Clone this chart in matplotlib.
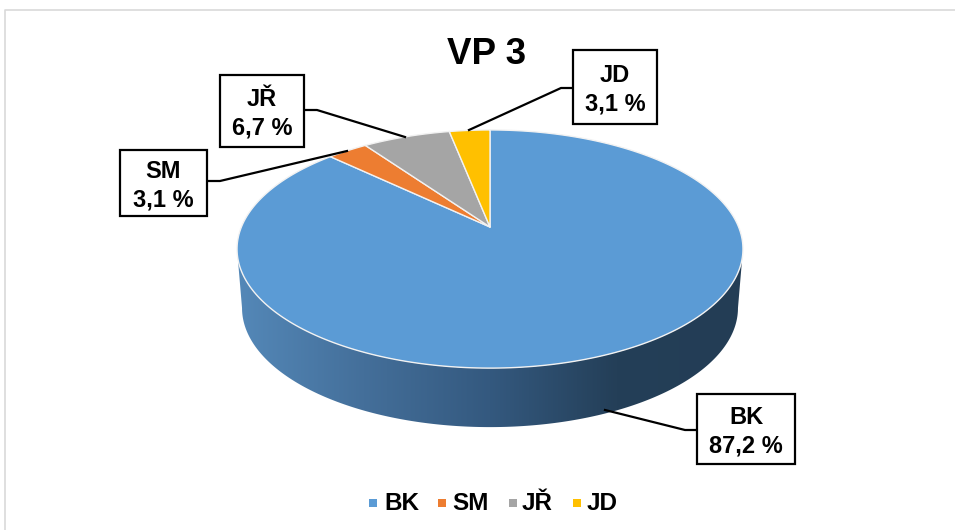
import numpy as np
import matplotlib.pyplot as plt
from matplotlib.patches import Polygon, Rectangle
from matplotlib.colors import LinearSegmentedColormap

plt.rcParams['font.family'] = ['Liberation Sans', 'DejaVu Sans']

# data
TITLE = "VP 3"
categories = ["BK", "SM", "JŘ", "JD"]
values = [87.2, 3.1, 6.7, 3.1]
colors = ["#5b9bd5", "#ed7d31", "#a5a5a5", "#ffc000"]

# pie geometry in pixels, the tilted disc is a circle seen in perspective
CX, APEX_Y = 490, 227
A, B, K = 248.6, 115, 0.185
WALL_DROP = 59
WALL_SHRINK = 5

# label boxes: x0, y0, x1, y1 and the leader line points
boxes = [(697, 394, 795, 464), (120, 150, 207, 216), (220, 75, 304, 147), (573, 50, 657, 124)]
leaders = [
    [(697, 430), (685, 430), (605, 410)],
    [(207, 181), (220, 181), (347, 151)],
    [(304, 110), (317, 110), (405, 137)],
    [(573, 88), (561, 88), (469, 130)],
]
legend_x = [(373, 384), (442, 452), (513, 522), (577, 587)]


def project(theta):
    # theta in radians, clockwise from the back of the disc
    u, v = np.sin(theta), np.cos(theta)
    w = 1 + K * v
    return CX + A * u / w, APEX_Y - B * v / w


fig = plt.figure(figsize=(9.55, 5.30), dpi=100)
ax = fig.add_axes([0, 0, 1, 1])
ax.set_xlim(0, 955)
ax.set_ylim(530, 0)
ax.axis('off')

# frame of the slide
ax.plot([5, 5, 955], [530, 10, 10], color='#d9d9d9', linewidth=1.2)

# side wall with a gradient
t = np.linspace(0, 2 * np.pi, 721)
xt, yt = project(t)
cy = (yt.max() + yt.min()) / 2
rx = (xt.max() - xt.min()) / 2
ry = (yt.max() - yt.min()) / 2
s = np.linspace(np.pi, 2 * np.pi, 300)
top_x, top_y = CX + rx * np.cos(s), cy - ry * np.sin(s)
bot_x, bot_y = CX + (rx - WALL_SHRINK) * np.cos(s), cy + WALL_DROP - ry * np.sin(s)
wall_pts = np.column_stack([np.r_[top_x, bot_x[::-1]], np.r_[top_y, bot_y[::-1]]])
wall = Polygon(wall_pts, closed=True, facecolor='none', edgecolor='none')
ax.add_patch(wall)
cmap = LinearSegmentedColormap.from_list('wall', [
    (0.0, '#5488b8'), (0.25, '#446f9a'), (0.5, '#34597f'),
    (0.75, '#243f58'), (1.0, '#233d55')])
im = ax.imshow(np.linspace(0, 1, 256)[None, :], extent=(CX - rx, CX + rx, 440, 240),
               cmap=cmap, aspect='auto', zorder=2)
im.set_clip_path(wall)
ax.set_xlim(0, 955)
ax.set_ylim(530, 0)

# slices, clockwise from the top
fractions = np.array(values) / sum(values)
edges = np.r_[0, np.cumsum(fractions)] * 2 * np.pi
for i, name in enumerate(categories):
    th = np.linspace(edges[i], edges[i + 1], 300)
    x, y = project(th)
    pts = np.column_stack([np.r_[CX, x], np.r_[APEX_Y, y]])
    ax.add_patch(Polygon(pts, closed=True, facecolor=colors[i], edgecolor='#f2f2f2',
                         linewidth=1.0, joinstyle='round', zorder=3))

# title
ax.text(487, 55, TITLE, ha='center', va='center', fontsize=26.5, fontweight='bold', color='black', zorder=6)

# data labels
for i, name in enumerate(categories):
    x0, y0, x1, y1 = boxes[i]
    ax.add_patch(Rectangle((x0, y0), x1 - x0, y1 - y0, facecolor='white', edgecolor='black',
                           linewidth=1.6, zorder=5))
    lx, ly = zip(*leaders[i])
    ax.plot(lx, ly, color='black', linewidth=1.6, zorder=4)
    pct = f"{values[i]:.1f} %".replace('.', ',')
    ax.text((x0 + x1) / 2, (y0 + y1) / 2 + 2.5, name + "\n" + pct, ha='center', va='center',
            fontsize=17, fontweight='bold', color='black', linespacing=1.3, zorder=6)

# legend
for i, name in enumerate(categories):
    mx, tx = legend_x[i]
    ax.scatter([mx], [503], marker='s', s=26, color=colors[i], linewidths=0, zorder=5)
    ax.text(tx, 503, name, ha='left', va='center', fontsize=17.5, fontweight='bold', color='black')

fig.savefig('out.png', dpi=100)
